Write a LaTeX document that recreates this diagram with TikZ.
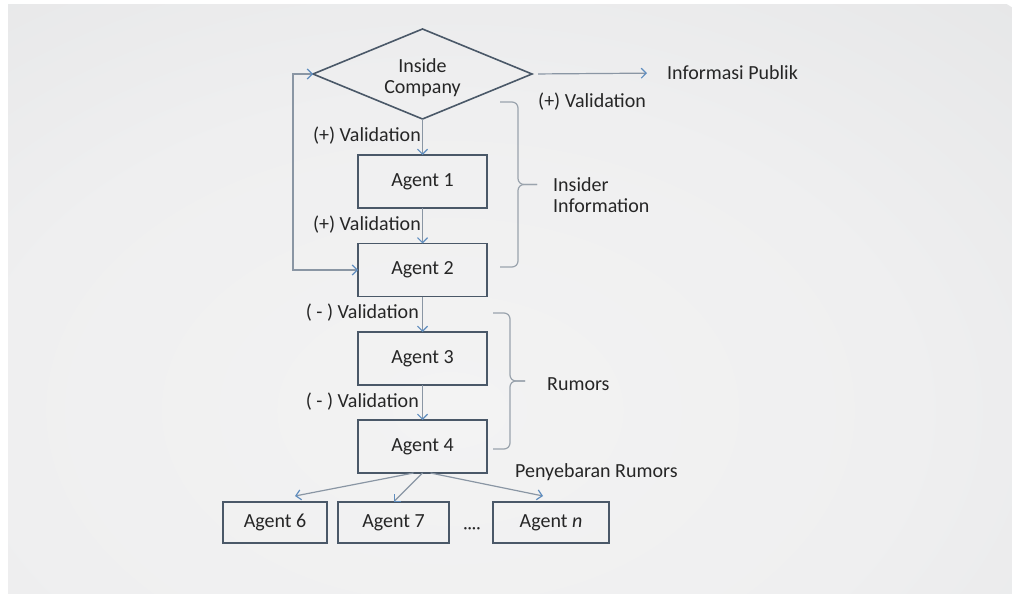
\documentclass[tikz,border=0pt]{standalone}
\usepackage{fontspec}
\setmainfont{Carlito}
\usetikzlibrary{arrows.meta,shapes.geometric,calc}
\definecolor{boxc}{HTML}{4A5868}
\definecolor{txt}{HTML}{262626}
\definecolor{arrc}{HTML}{8A96A4}
\definecolor{tipc}{HTML}{5F8DBF}
\definecolor{brc}{HTML}{9AA3AD}
\definecolor{bg0}{HTML}{F3F3F3}
\definecolor{bg1}{HTML}{EFEFF0}
\definecolor{bg2}{HTML}{E2E3E4}
\definecolor{bg3}{HTML}{D9DADC}
\definecolor{bg4}{HTML}{D3D4D6}
\definecolor{bg5}{HTML}{D1D2D4}
\pgfdeclareradialshading{bgsh}{\pgfpoint{0bp}{0bp}}{color(0bp)=(bg0); color(14bp)=(bg1); color(31bp)=(bg2); color(36bp)=(bg3); color(44bp)=(bg4); color(50bp)=(bg5)}
\tikzset{
  dia/.style={diamond, draw=boxc, line width=1.6pt, aspect=2.4, minimum width=219pt, minimum height=90pt, inner sep=0pt, outer sep=0pt},
  agent/.style={draw=boxc, line width=1.6pt, minimum height=53pt, minimum width=129pt, inner sep=0pt, outer sep=0pt, text=txt},
  small/.style={agent, minimum height=41pt},
  lbl/.style={text=txt, inner sep=0pt},
  arr/.style={draw=arrc, line width=1.2pt, -{Straight Barb[length=5pt,width=10pt,color=tipc]}},
  arrtwo/.style={draw=arrc, line width=1.2pt, {Straight Barb[length=5pt,width=10pt,color=tipc]}-{Straight Barb[length=5pt,width=10pt,color=tipc]}},
  brace/.style={draw=brc, line width=1.2pt, rounded corners=6pt},
}
\begin{document}
\begin{tikzpicture}[x=1pt,y=-1pt,font=\fontsize{20}{21}\selectfont]
\useasboundingbox (0,0) rectangle (1012,594);
\fill[white] (0,0) rectangle (1012,594);
\begin{scope}
\clip (8,5) rectangle (1012,594);
\shade[shading=bgsh] (450,410) ellipse [x radius=825pt, y radius=550pt];
\end{scope}

% main nodes
\node[dia] (ic) at (422.5,74) {};
\node[lbl, align=center] (ict) at (422.5,78) {Inside\\Company};
\node[agent] (a1) at (422.5,181.5) {Agent 1};
\node[agent] (a2) at (422.5,270) {Agent 2};
\node[agent] (a3) at (422.5,358.5) {Agent 3};
\node[agent] (a4) at (422.5,446.5) {Agent 4};
\node[small, minimum width=104pt] (a6) at (275,522.5) {Agent 6};
\node[small, minimum width=111pt] (a7) at (393.5,522.5) {Agent 7};
\node[small, minimum width=116pt] (an) at (551,522.5) {Agent \textit{n}};
\node[lbl, font=\fontsize{17}{20}\selectfont] (dots) at (472,531) {····};

% labels
\node[lbl, anchor=west] (ip) at (667,73) {Informasi Publik};
\node[lbl, anchor=west] (v0) at (538,102) {(+) Validation};
\node[lbl, anchor=east] (v1) at (421,136) {(+) Validation};
\node[lbl, anchor=east] (v2) at (421,225) {(+) Validation};
\node[lbl, anchor=east] (v3) at (419,313) {( - ) Validation};
\node[lbl, anchor=east] (v4) at (419,402) {( - ) Validation};
\node[lbl, anchor=west, align=left] (ii) at (553,195) {Insider\\Information};
\node[lbl, anchor=west] (ru) at (547,384) {Rumors};
\node[lbl, anchor=west] (pr) at (515,472) {Penyebaran Rumors};

% connectors
\draw[arr, shorten <=6pt, shorten >=20pt] (ic.east) -- (ip.west);
\draw[arr] (ic.south) -- (a1.north);
\draw[arr] (a1.south) -- (a2.north);
\draw[arr] (a2.south) -- (a3.north);
\draw[arr] (a3.south) -- (a4.north);
\coordinate (fbt) at (293,74);
\coordinate (fbb) at (293,270);
\draw[arrtwo] (ic.west) -- (fbt) -- (fbb) -- (a2.west);
\coordinate (c6) at (295,496);
\coordinate (cn) at (543,496);
\draw[arr] ([xshift=-9pt]a4.south) -- (c6);
\draw[arr] (a4.south) -- (a7.north);
\draw[arr] ([xshift=8pt]a4.south) -- (cn);

% braces
\draw[brace] (500,102) -- (518,102) -- (518,184.5) -- (537,184.5);
\draw[brace] (500,267) -- (518,267) -- (518,184.5) -- (537,184.5);
\draw[brace] (493,313) -- (510,313) -- (510,381) -- (525,381);
\draw[brace] (493,449) -- (510,449) -- (510,381) -- (525,381);
\end{tikzpicture}
\end{document}
